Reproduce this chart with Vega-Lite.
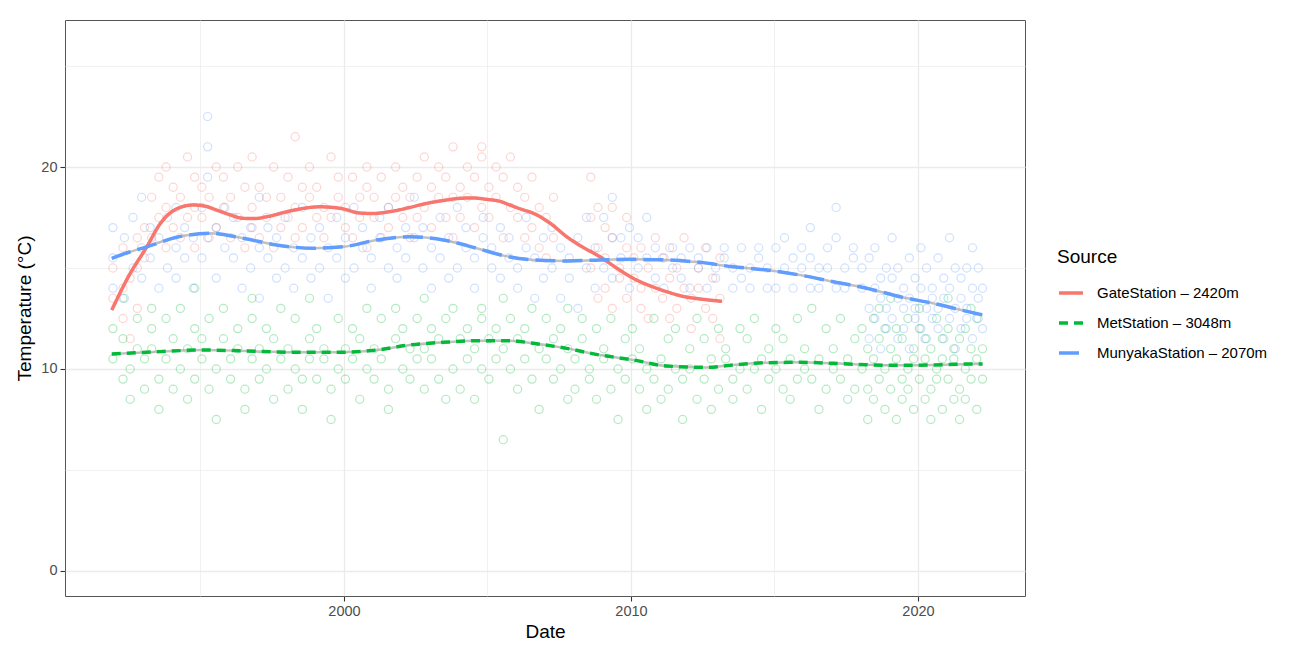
{
"$schema":"https://vega.github.io/schema/vega-lite/v6.json",
"width":960,"height":576,
"autosize":{"type":"none"},
"padding":{"left":65,"top":20,"right":268,"bottom":52},
"background":"white",
"config":{"font":"Liberation Sans","view":{"stroke":"#555555","strokeWidth":1},
"axis":{"domain":false,"labelFontSize":14.5,"labelColor":"#4D4D4D","titleFontSize":19,"titleFontWeight":"normal","titleColor":"#000000","tickSize":5,"tickWidth":1.1,"labelPadding":3},
"legend":{"symbolType":"stroke","symbolStrokeWidth":3.5,"symbolSize":576,"rowPadding":8,"labelFontSize":15,"labelColor":"#000000","labelLimit":300,"titleFontSize":19,"titleFontWeight":"normal","titleColor":"#000000","labelOffset":12,"titlePadding":12}},
"datasets":{
"pts":[
{"d":1991.95,"t":13.5,"s":"G"},{"d":1991.95,"t":15.0,"s":"G"},{"d":1992.3,"t":12.5,"s":"G"},{"d":1992.3,"t":16.0,"s":"G"},{"d":1992.3,"t":14.0,"s":"G"},{"d":1992.55,"t":14.5,"s":"G"},{"d":1992.55,"t":11.5,"s":"G"},{"d":1992.8,"t":13.0,"s":"G"},{"d":1992.8,"t":16.5,"s":"G"},{"d":1992.8,"t":15.0,"s":"G"},
{"d":1993.05,"t":17.0,"s":"G"},{"d":1993.05,"t":15.5,"s":"G"},{"d":1993.3,"t":18.5,"s":"G"},{"d":1993.3,"t":16.5,"s":"G"},{"d":1993.55,"t":17.5,"s":"G"},{"d":1993.55,"t":19.5,"s":"G"},{"d":1993.8,"t":18.0,"s":"G"},{"d":1993.8,"t":16.0,"s":"G"},{"d":1993.8,"t":20.0,"s":"G"},
{"d":1994.05,"t":17.0,"s":"G"},{"d":1994.05,"t":19.0,"s":"G"},{"d":1994.3,"t":18.5,"s":"G"},{"d":1994.3,"t":16.5,"s":"G"},{"d":1994.55,"t":20.5,"s":"G"},{"d":1994.55,"t":17.5,"s":"G"},{"d":1994.8,"t":18.0,"s":"G"},{"d":1994.8,"t":19.5,"s":"G"},{"d":1994.8,"t":16.0,"s":"G"},
{"d":1995.05,"t":17.5,"s":"G"},{"d":1995.05,"t":19.0,"s":"G"},{"d":1995.3,"t":18.5,"s":"G"},{"d":1995.3,"t":16.5,"s":"G"},{"d":1995.55,"t":20.0,"s":"G"},{"d":1995.55,"t":17.0,"s":"G"},{"d":1995.8,"t":18.0,"s":"G"},{"d":1995.8,"t":19.5,"s":"G"},
{"d":1996.05,"t":16.5,"s":"G"},{"d":1996.05,"t":18.5,"s":"G"},{"d":1996.3,"t":17.5,"s":"G"},{"d":1996.3,"t":20.0,"s":"G"},{"d":1996.55,"t":19.0,"s":"G"},{"d":1996.55,"t":16.0,"s":"G"},{"d":1996.8,"t":18.0,"s":"G"},{"d":1996.8,"t":17.0,"s":"G"},{"d":1996.8,"t":20.5,"s":"G"},
{"d":1997.05,"t":19.0,"s":"G"},{"d":1997.05,"t":16.5,"s":"G"},{"d":1997.3,"t":17.5,"s":"G"},{"d":1997.3,"t":18.5,"s":"G"},{"d":1997.55,"t":20.0,"s":"G"},{"d":1997.55,"t":16.0,"s":"G"},{"d":1997.8,"t":18.5,"s":"G"},{"d":1997.8,"t":17.0,"s":"G"},
{"d":1998.05,"t":19.5,"s":"G"},{"d":1998.05,"t":17.5,"s":"G"},{"d":1998.3,"t":18.0,"s":"G"},{"d":1998.3,"t":16.5,"s":"G"},{"d":1998.3,"t":21.5,"s":"G"},{"d":1998.55,"t":19.0,"s":"G"},{"d":1998.55,"t":17.0,"s":"G"},{"d":1998.8,"t":18.5,"s":"G"},{"d":1998.8,"t":20.0,"s":"G"},
{"d":1999.05,"t":17.5,"s":"G"},{"d":1999.05,"t":19.0,"s":"G"},{"d":1999.3,"t":18.0,"s":"G"},{"d":1999.3,"t":16.5,"s":"G"},{"d":1999.55,"t":20.5,"s":"G"},{"d":1999.55,"t":17.5,"s":"G"},{"d":1999.8,"t":18.5,"s":"G"},{"d":1999.8,"t":19.5,"s":"G"},
{"d":2000.05,"t":17.0,"s":"G"},{"d":2000.05,"t":18.0,"s":"G"},{"d":2000.3,"t":19.5,"s":"G"},{"d":2000.3,"t":16.5,"s":"G"},{"d":2000.55,"t":18.5,"s":"G"},{"d":2000.55,"t":17.5,"s":"G"},{"d":2000.8,"t":19.0,"s":"G"},{"d":2000.8,"t":16.0,"s":"G"},{"d":2000.8,"t":20.0,"s":"G"},
{"d":2001.05,"t":17.5,"s":"G"},{"d":2001.05,"t":18.5,"s":"G"},{"d":2001.3,"t":19.5,"s":"G"},{"d":2001.3,"t":16.5,"s":"G"},{"d":2001.55,"t":18.0,"s":"G"},{"d":2001.55,"t":17.0,"s":"G"},{"d":2001.8,"t":20.0,"s":"G"},{"d":2001.8,"t":18.5,"s":"G"},
{"d":2002.05,"t":17.5,"s":"G"},{"d":2002.05,"t":19.0,"s":"G"},{"d":2002.3,"t":18.5,"s":"G"},{"d":2002.3,"t":16.5,"s":"G"},{"d":2002.55,"t":19.5,"s":"G"},{"d":2002.55,"t":17.5,"s":"G"},{"d":2002.8,"t":18.0,"s":"G"},{"d":2002.8,"t":20.5,"s":"G"},
{"d":2003.05,"t":19.0,"s":"G"},{"d":2003.05,"t":17.0,"s":"G"},{"d":2003.3,"t":18.5,"s":"G"},{"d":2003.3,"t":20.0,"s":"G"},{"d":2003.55,"t":17.5,"s":"G"},{"d":2003.55,"t":19.5,"s":"G"},{"d":2003.8,"t":18.5,"s":"G"},{"d":2003.8,"t":16.5,"s":"G"},{"d":2003.8,"t":21.0,"s":"G"},
{"d":2004.05,"t":19.0,"s":"G"},{"d":2004.05,"t":17.5,"s":"G"},{"d":2004.3,"t":20.0,"s":"G"},{"d":2004.3,"t":18.5,"s":"G"},{"d":2004.55,"t":19.5,"s":"G"},{"d":2004.55,"t":17.0,"s":"G"},{"d":2004.8,"t":18.0,"s":"G"},{"d":2004.8,"t":20.5,"s":"G"},{"d":2004.8,"t":21.0,"s":"G"},
{"d":2005.05,"t":19.0,"s":"G"},{"d":2005.05,"t":17.5,"s":"G"},{"d":2005.3,"t":20.0,"s":"G"},{"d":2005.3,"t":18.5,"s":"G"},{"d":2005.55,"t":19.5,"s":"G"},{"d":2005.55,"t":16.5,"s":"G"},{"d":2005.8,"t":18.0,"s":"G"},{"d":2005.8,"t":20.5,"s":"G"},
{"d":2006.05,"t":17.5,"s":"G"},{"d":2006.05,"t":19.0,"s":"G"},{"d":2006.3,"t":18.5,"s":"G"},{"d":2006.3,"t":16.5,"s":"G"},{"d":2006.55,"t":19.5,"s":"G"},{"d":2006.55,"t":17.0,"s":"G"},{"d":2006.8,"t":18.0,"s":"G"},{"d":2006.8,"t":16.0,"s":"G"},
{"d":2007.05,"t":17.5,"s":"G"},{"d":2007.05,"t":15.5,"s":"G"},{"d":2007.3,"t":18.5,"s":"G"},{"d":2007.3,"t":16.5,"s":"G"},
{"d":2008.6,"t":17.5,"s":"G"},{"d":2008.6,"t":19.5,"s":"G"},{"d":2008.6,"t":15.0,"s":"G"},{"d":2008.85,"t":16.0,"s":"G"},{"d":2008.85,"t":18.0,"s":"G"},{"d":2008.85,"t":13.5,"s":"G"},
{"d":2009.1,"t":15.5,"s":"G"},{"d":2009.1,"t":17.0,"s":"G"},{"d":2009.1,"t":14.0,"s":"G"},{"d":2009.35,"t":16.5,"s":"G"},{"d":2009.35,"t":13.0,"s":"G"},{"d":2009.35,"t":18.0,"s":"G"},{"d":2009.6,"t":15.0,"s":"G"},{"d":2009.6,"t":14.5,"s":"G"},{"d":2009.85,"t":16.0,"s":"G"},{"d":2009.85,"t":13.5,"s":"G"},{"d":2009.85,"t":17.5,"s":"G"},
{"d":2010.1,"t":14.5,"s":"G"},{"d":2010.1,"t":15.5,"s":"G"},{"d":2010.35,"t":13.0,"s":"G"},{"d":2010.35,"t":16.0,"s":"G"},{"d":2010.35,"t":14.0,"s":"G"},{"d":2010.6,"t":15.0,"s":"G"},{"d":2010.6,"t":12.5,"s":"G"},{"d":2010.85,"t":14.0,"s":"G"},{"d":2010.85,"t":16.5,"s":"G"},
{"d":2011.1,"t":13.5,"s":"G"},{"d":2011.1,"t":15.5,"s":"G"},{"d":2011.35,"t":14.5,"s":"G"},{"d":2011.35,"t":12.5,"s":"G"},{"d":2011.35,"t":16.0,"s":"G"},{"d":2011.6,"t":13.0,"s":"G"},{"d":2011.6,"t":15.0,"s":"G"},{"d":2011.85,"t":14.0,"s":"G"},{"d":2011.85,"t":16.5,"s":"G"},
{"d":2012.1,"t":13.5,"s":"G"},{"d":2012.1,"t":12.0,"s":"G"},{"d":2012.35,"t":15.0,"s":"G"},{"d":2012.35,"t":14.0,"s":"G"},{"d":2012.6,"t":13.0,"s":"G"},{"d":2012.6,"t":16.0,"s":"G"},{"d":2012.85,"t":14.5,"s":"G"},{"d":2012.85,"t":12.5,"s":"G"},
{"d":2013.1,"t":13.5,"s":"G"},{"d":2013.1,"t":15.5,"s":"G"},{"d":2013.1,"t":11.5,"s":"G"},

{"d":1991.95,"t":10.5,"s":"M"},{"d":1991.95,"t":12.0,"s":"M"},{"d":1992.3,"t":9.5,"s":"M"},{"d":1992.3,"t":11.5,"s":"M"},{"d":1992.3,"t":13.5,"s":"M"},{"d":1992.55,"t":10.0,"s":"M"},{"d":1992.55,"t":8.5,"s":"M"},{"d":1992.8,"t":11.0,"s":"M"},{"d":1992.8,"t":12.5,"s":"M"},
{"d":1993.05,"t":9.0,"s":"M"},{"d":1993.05,"t":10.5,"s":"M"},{"d":1993.3,"t":12.0,"s":"M"},{"d":1993.3,"t":11.0,"s":"M"},{"d":1993.3,"t":13.0,"s":"M"},{"d":1993.55,"t":9.5,"s":"M"},{"d":1993.55,"t":8.0,"s":"M"},{"d":1993.8,"t":10.5,"s":"M"},{"d":1993.8,"t":12.5,"s":"M"},
{"d":1994.05,"t":11.5,"s":"M"},{"d":1994.05,"t":9.0,"s":"M"},{"d":1994.3,"t":10.0,"s":"M"},{"d":1994.3,"t":13.0,"s":"M"},{"d":1994.55,"t":11.0,"s":"M"},{"d":1994.55,"t":8.5,"s":"M"},{"d":1994.8,"t":12.0,"s":"M"},{"d":1994.8,"t":9.5,"s":"M"},{"d":1994.8,"t":14.0,"s":"M"},
{"d":1995.05,"t":10.5,"s":"M"},{"d":1995.05,"t":11.5,"s":"M"},{"d":1995.3,"t":9.0,"s":"M"},{"d":1995.3,"t":12.5,"s":"M"},{"d":1995.55,"t":10.0,"s":"M"},{"d":1995.55,"t":7.5,"s":"M"},{"d":1995.8,"t":11.5,"s":"M"},{"d":1995.8,"t":13.0,"s":"M"},
{"d":1996.05,"t":10.5,"s":"M"},{"d":1996.05,"t":9.5,"s":"M"},{"d":1996.3,"t":12.0,"s":"M"},{"d":1996.3,"t":11.0,"s":"M"},{"d":1996.55,"t":9.0,"s":"M"},{"d":1996.55,"t":8.0,"s":"M"},{"d":1996.8,"t":10.5,"s":"M"},{"d":1996.8,"t":12.5,"s":"M"},{"d":1996.8,"t":13.5,"s":"M"},
{"d":1997.05,"t":11.0,"s":"M"},{"d":1997.05,"t":9.5,"s":"M"},{"d":1997.3,"t":10.0,"s":"M"},{"d":1997.3,"t":12.0,"s":"M"},{"d":1997.55,"t":8.5,"s":"M"},{"d":1997.55,"t":11.5,"s":"M"},{"d":1997.8,"t":10.5,"s":"M"},{"d":1997.8,"t":13.0,"s":"M"},
{"d":1998.05,"t":9.0,"s":"M"},{"d":1998.05,"t":11.0,"s":"M"},{"d":1998.3,"t":12.5,"s":"M"},{"d":1998.3,"t":10.0,"s":"M"},{"d":1998.55,"t":8.0,"s":"M"},{"d":1998.55,"t":9.5,"s":"M"},{"d":1998.8,"t":11.5,"s":"M"},{"d":1998.8,"t":10.5,"s":"M"},{"d":1998.8,"t":13.5,"s":"M"},
{"d":1999.05,"t":9.5,"s":"M"},{"d":1999.05,"t":12.0,"s":"M"},{"d":1999.3,"t":10.5,"s":"M"},{"d":1999.3,"t":11.0,"s":"M"},{"d":1999.55,"t":7.5,"s":"M"},{"d":1999.55,"t":9.0,"s":"M"},{"d":1999.8,"t":12.5,"s":"M"},{"d":1999.8,"t":10.0,"s":"M"},
{"d":2000.05,"t":11.0,"s":"M"},{"d":2000.05,"t":9.5,"s":"M"},{"d":2000.3,"t":10.5,"s":"M"},{"d":2000.3,"t":12.0,"s":"M"},{"d":2000.55,"t":8.5,"s":"M"},{"d":2000.55,"t":11.5,"s":"M"},{"d":2000.8,"t":10.0,"s":"M"},{"d":2000.8,"t":13.0,"s":"M"},
{"d":2001.05,"t":9.5,"s":"M"},{"d":2001.05,"t":11.0,"s":"M"},{"d":2001.3,"t":12.5,"s":"M"},{"d":2001.3,"t":10.5,"s":"M"},{"d":2001.55,"t":9.0,"s":"M"},{"d":2001.55,"t":8.0,"s":"M"},{"d":2001.8,"t":11.5,"s":"M"},{"d":2001.8,"t":13.0,"s":"M"},
{"d":2002.05,"t":10.0,"s":"M"},{"d":2002.05,"t":12.0,"s":"M"},{"d":2002.3,"t":11.0,"s":"M"},{"d":2002.3,"t":9.5,"s":"M"},{"d":2002.55,"t":12.5,"s":"M"},{"d":2002.55,"t":10.5,"s":"M"},{"d":2002.8,"t":13.5,"s":"M"},{"d":2002.8,"t":11.0,"s":"M"},{"d":2002.8,"t":9.0,"s":"M"},
{"d":2003.05,"t":10.5,"s":"M"},{"d":2003.05,"t":12.0,"s":"M"},{"d":2003.3,"t":11.5,"s":"M"},{"d":2003.3,"t":9.5,"s":"M"},{"d":2003.55,"t":12.5,"s":"M"},{"d":2003.55,"t":8.5,"s":"M"},{"d":2003.8,"t":10.0,"s":"M"},{"d":2003.8,"t":13.0,"s":"M"},
{"d":2004.05,"t":11.5,"s":"M"},{"d":2004.05,"t":9.0,"s":"M"},{"d":2004.3,"t":12.0,"s":"M"},{"d":2004.3,"t":10.5,"s":"M"},{"d":2004.55,"t":11.0,"s":"M"},{"d":2004.55,"t":8.5,"s":"M"},{"d":2004.8,"t":13.0,"s":"M"},{"d":2004.8,"t":10.0,"s":"M"},{"d":2004.8,"t":12.5,"s":"M"},
{"d":2005.05,"t":11.5,"s":"M"},{"d":2005.05,"t":9.5,"s":"M"},{"d":2005.3,"t":12.0,"s":"M"},{"d":2005.3,"t":10.5,"s":"M"},{"d":2005.55,"t":11.0,"s":"M"},{"d":2005.55,"t":13.5,"s":"M"},{"d":2005.55,"t":6.5,"s":"M"},{"d":2005.8,"t":10.0,"s":"M"},{"d":2005.8,"t":12.5,"s":"M"},
{"d":2006.05,"t":11.5,"s":"M"},{"d":2006.05,"t":9.0,"s":"M"},{"d":2006.3,"t":10.5,"s":"M"},{"d":2006.3,"t":12.0,"s":"M"},{"d":2006.55,"t":13.0,"s":"M"},{"d":2006.55,"t":9.5,"s":"M"},{"d":2006.8,"t":11.0,"s":"M"},{"d":2006.8,"t":8.0,"s":"M"},
{"d":2007.05,"t":10.5,"s":"M"},{"d":2007.05,"t":12.5,"s":"M"},{"d":2007.3,"t":9.5,"s":"M"},{"d":2007.3,"t":11.5,"s":"M"},{"d":2007.55,"t":12.0,"s":"M"},{"d":2007.55,"t":10.0,"s":"M"},{"d":2007.8,"t":8.5,"s":"M"},{"d":2007.8,"t":11.0,"s":"M"},{"d":2007.8,"t":13.0,"s":"M"},
{"d":2008.05,"t":10.5,"s":"M"},{"d":2008.05,"t":9.0,"s":"M"},{"d":2008.3,"t":11.5,"s":"M"},{"d":2008.3,"t":12.5,"s":"M"},{"d":2008.55,"t":9.5,"s":"M"},{"d":2008.55,"t":10.0,"s":"M"},{"d":2008.8,"t":12.0,"s":"M"},{"d":2008.8,"t":8.5,"s":"M"},
{"d":2009.05,"t":10.5,"s":"M"},{"d":2009.05,"t":11.0,"s":"M"},{"d":2009.3,"t":9.0,"s":"M"},{"d":2009.3,"t":12.5,"s":"M"},{"d":2009.55,"t":10.0,"s":"M"},{"d":2009.55,"t":7.5,"s":"M"},{"d":2009.8,"t":11.5,"s":"M"},{"d":2009.8,"t":9.5,"s":"M"},
{"d":2010.05,"t":10.5,"s":"M"},{"d":2010.05,"t":12.0,"s":"M"},{"d":2010.3,"t":9.0,"s":"M"},{"d":2010.3,"t":11.0,"s":"M"},{"d":2010.55,"t":8.0,"s":"M"},{"d":2010.55,"t":10.0,"s":"M"},{"d":2010.8,"t":12.5,"s":"M"},{"d":2010.8,"t":9.5,"s":"M"},
{"d":2011.05,"t":10.5,"s":"M"},{"d":2011.05,"t":8.5,"s":"M"},{"d":2011.3,"t":11.5,"s":"M"},{"d":2011.3,"t":9.0,"s":"M"},{"d":2011.55,"t":10.0,"s":"M"},{"d":2011.55,"t":12.0,"s":"M"},{"d":2011.8,"t":7.5,"s":"M"},{"d":2011.8,"t":9.5,"s":"M"},
{"d":2012.05,"t":11.0,"s":"M"},{"d":2012.05,"t":10.0,"s":"M"},{"d":2012.3,"t":8.5,"s":"M"},{"d":2012.3,"t":12.5,"s":"M"},{"d":2012.55,"t":9.5,"s":"M"},{"d":2012.55,"t":11.5,"s":"M"},{"d":2012.8,"t":10.5,"s":"M"},{"d":2012.8,"t":8.0,"s":"M"},
{"d":2013.05,"t":12.0,"s":"M"},{"d":2013.05,"t":9.0,"s":"M"},{"d":2013.3,"t":10.5,"s":"M"},{"d":2013.3,"t":11.0,"s":"M"},{"d":2013.55,"t":8.5,"s":"M"},{"d":2013.55,"t":9.5,"s":"M"},{"d":2013.8,"t":12.0,"s":"M"},{"d":2013.8,"t":10.0,"s":"M"},
{"d":2014.05,"t":11.5,"s":"M"},{"d":2014.05,"t":9.0,"s":"M"},{"d":2014.3,"t":10.0,"s":"M"},{"d":2014.3,"t":12.5,"s":"M"},{"d":2014.55,"t":8.0,"s":"M"},{"d":2014.55,"t":10.5,"s":"M"},{"d":2014.8,"t":11.0,"s":"M"},{"d":2014.8,"t":9.5,"s":"M"},
{"d":2015.05,"t":12.0,"s":"M"},{"d":2015.05,"t":10.0,"s":"M"},{"d":2015.3,"t":9.0,"s":"M"},{"d":2015.3,"t":11.5,"s":"M"},{"d":2015.55,"t":10.5,"s":"M"},{"d":2015.55,"t":8.5,"s":"M"},{"d":2015.8,"t":12.5,"s":"M"},{"d":2015.8,"t":9.5,"s":"M"},
{"d":2016.05,"t":10.0,"s":"M"},{"d":2016.05,"t":11.0,"s":"M"},{"d":2016.3,"t":9.5,"s":"M"},{"d":2016.3,"t":13.0,"s":"M"},{"d":2016.55,"t":10.5,"s":"M"},{"d":2016.55,"t":8.0,"s":"M"},{"d":2016.8,"t":12.0,"s":"M"},{"d":2016.8,"t":9.0,"s":"M"},
{"d":2017.05,"t":11.0,"s":"M"},{"d":2017.05,"t":10.0,"s":"M"},{"d":2017.3,"t":9.5,"s":"M"},{"d":2017.3,"t":12.5,"s":"M"},{"d":2017.55,"t":10.5,"s":"M"},{"d":2017.55,"t":8.5,"s":"M"},{"d":2017.8,"t":11.5,"s":"M"},{"d":2017.8,"t":9.0,"s":"M"},
{"d":2018.05,"t":10.0,"s":"M"},{"d":2018.05,"t":12.0,"s":"M"},{"d":2018.25,"t":9.0,"s":"M"},{"d":2018.25,"t":11.0,"s":"M"},{"d":2018.25,"t":7.5,"s":"M"},{"d":2018.45,"t":10.5,"s":"M"},{"d":2018.45,"t":12.5,"s":"M"},{"d":2018.45,"t":8.5,"s":"M"},{"d":2018.65,"t":9.5,"s":"M"},{"d":2018.65,"t":11.5,"s":"M"},{"d":2018.65,"t":13.0,"s":"M"},{"d":2018.85,"t":10.0,"s":"M"},{"d":2018.85,"t":8.0,"s":"M"},{"d":2018.85,"t":12.0,"s":"M"},
{"d":2019.05,"t":11.0,"s":"M"},{"d":2019.05,"t":9.0,"s":"M"},{"d":2019.05,"t":13.5,"s":"M"},{"d":2019.25,"t":10.5,"s":"M"},{"d":2019.25,"t":7.5,"s":"M"},{"d":2019.25,"t":12.0,"s":"M"},{"d":2019.45,"t":9.5,"s":"M"},{"d":2019.45,"t":11.5,"s":"M"},{"d":2019.45,"t":8.5,"s":"M"},{"d":2019.65,"t":10.0,"s":"M"},{"d":2019.65,"t":12.5,"s":"M"},{"d":2019.65,"t":9.0,"s":"M"},{"d":2019.85,"t":11.0,"s":"M"},{"d":2019.85,"t":8.0,"s":"M"},{"d":2019.85,"t":10.5,"s":"M"},
{"d":2020.05,"t":9.5,"s":"M"},{"d":2020.05,"t":12.0,"s":"M"},{"d":2020.05,"t":13.0,"s":"M"},{"d":2020.25,"t":10.5,"s":"M"},{"d":2020.25,"t":8.5,"s":"M"},{"d":2020.25,"t":11.5,"s":"M"},{"d":2020.45,"t":9.0,"s":"M"},{"d":2020.45,"t":11.0,"s":"M"},{"d":2020.45,"t":7.5,"s":"M"},{"d":2020.65,"t":10.0,"s":"M"},{"d":2020.65,"t":12.5,"s":"M"},{"d":2020.65,"t":9.5,"s":"M"},{"d":2020.85,"t":11.5,"s":"M"},{"d":2020.85,"t":8.0,"s":"M"},{"d":2020.85,"t":10.5,"s":"M"},
{"d":2021.05,"t":9.5,"s":"M"},{"d":2021.05,"t":12.0,"s":"M"},{"d":2021.05,"t":13.5,"s":"M"},{"d":2021.25,"t":10.5,"s":"M"},{"d":2021.25,"t":8.5,"s":"M"},{"d":2021.25,"t":11.0,"s":"M"},{"d":2021.45,"t":9.0,"s":"M"},{"d":2021.45,"t":11.5,"s":"M"},{"d":2021.45,"t":7.5,"s":"M"},{"d":2021.65,"t":10.0,"s":"M"},{"d":2021.65,"t":12.0,"s":"M"},{"d":2021.65,"t":8.5,"s":"M"},{"d":2021.85,"t":11.0,"s":"M"},{"d":2021.85,"t":9.5,"s":"M"},{"d":2021.85,"t":13.0,"s":"M"},
{"d":2022.05,"t":10.5,"s":"M"},{"d":2022.05,"t":8.0,"s":"M"},{"d":2022.05,"t":12.5,"s":"M"},{"d":2022.25,"t":9.5,"s":"M"},{"d":2022.25,"t":11.0,"s":"M"},

{"d":1991.95,"t":15.5,"s":"K"},{"d":1991.95,"t":17.0,"s":"K"},{"d":1991.95,"t":14.0,"s":"K"},{"d":1992.35,"t":16.5,"s":"K"},{"d":1992.35,"t":13.5,"s":"K"},{"d":1992.65,"t":15.0,"s":"K"},{"d":1992.65,"t":17.5,"s":"K"},{"d":1992.95,"t":16.0,"s":"K"},{"d":1992.95,"t":14.5,"s":"K"},{"d":1992.95,"t":18.5,"s":"K"},
{"d":1993.25,"t":15.5,"s":"K"},{"d":1993.25,"t":17.0,"s":"K"},{"d":1993.55,"t":16.5,"s":"K"},{"d":1993.55,"t":14.0,"s":"K"},{"d":1993.85,"t":17.5,"s":"K"},{"d":1993.85,"t":15.0,"s":"K"},
{"d":1994.15,"t":16.0,"s":"K"},{"d":1994.15,"t":18.0,"s":"K"},{"d":1994.15,"t":14.5,"s":"K"},{"d":1994.45,"t":17.0,"s":"K"},{"d":1994.45,"t":15.5,"s":"K"},{"d":1994.75,"t":16.5,"s":"K"},{"d":1994.75,"t":14.0,"s":"K"},
{"d":1995.05,"t":18.0,"s":"K"},{"d":1995.05,"t":15.5,"s":"K"},{"d":1995.25,"t":19.5,"s":"K"},{"d":1995.25,"t":21.0,"s":"K"},{"d":1995.25,"t":22.5,"s":"K"},{"d":1995.25,"t":16.5,"s":"K"},{"d":1995.55,"t":17.0,"s":"K"},{"d":1995.55,"t":14.5,"s":"K"},{"d":1995.85,"t":16.0,"s":"K"},{"d":1995.85,"t":18.0,"s":"K"},
{"d":1996.15,"t":15.5,"s":"K"},{"d":1996.15,"t":17.5,"s":"K"},{"d":1996.45,"t":16.5,"s":"K"},{"d":1996.45,"t":14.0,"s":"K"},{"d":1996.75,"t":15.0,"s":"K"},{"d":1996.75,"t":17.0,"s":"K"},
{"d":1997.05,"t":16.0,"s":"K"},{"d":1997.05,"t":13.5,"s":"K"},{"d":1997.05,"t":18.5,"s":"K"},{"d":1997.35,"t":15.5,"s":"K"},{"d":1997.35,"t":17.0,"s":"K"},{"d":1997.65,"t":16.5,"s":"K"},{"d":1997.65,"t":14.5,"s":"K"},{"d":1997.95,"t":15.0,"s":"K"},{"d":1997.95,"t":17.5,"s":"K"},
{"d":1998.25,"t":16.0,"s":"K"},{"d":1998.25,"t":14.0,"s":"K"},{"d":1998.55,"t":15.5,"s":"K"},{"d":1998.55,"t":18.0,"s":"K"},{"d":1998.85,"t":16.5,"s":"K"},{"d":1998.85,"t":14.5,"s":"K"},
{"d":1999.15,"t":15.0,"s":"K"},{"d":1999.15,"t":17.0,"s":"K"},{"d":1999.45,"t":16.0,"s":"K"},{"d":1999.45,"t":13.5,"s":"K"},{"d":1999.75,"t":15.5,"s":"K"},{"d":1999.75,"t":17.5,"s":"K"},
{"d":2000.05,"t":16.5,"s":"K"},{"d":2000.05,"t":14.5,"s":"K"},{"d":2000.35,"t":15.0,"s":"K"},{"d":2000.35,"t":18.0,"s":"K"},{"d":2000.65,"t":16.0,"s":"K"},{"d":2000.65,"t":17.0,"s":"K"},{"d":2000.95,"t":15.5,"s":"K"},{"d":2000.95,"t":14.0,"s":"K"},
{"d":2001.25,"t":16.5,"s":"K"},{"d":2001.25,"t":17.5,"s":"K"},{"d":2001.55,"t":15.0,"s":"K"},{"d":2001.55,"t":18.0,"s":"K"},{"d":2001.85,"t":16.0,"s":"K"},{"d":2001.85,"t":14.5,"s":"K"},
{"d":2002.15,"t":17.0,"s":"K"},{"d":2002.15,"t":15.5,"s":"K"},{"d":2002.45,"t":16.5,"s":"K"},{"d":2002.45,"t":18.5,"s":"K"},{"d":2002.75,"t":15.0,"s":"K"},{"d":2002.75,"t":17.0,"s":"K"},
{"d":2003.05,"t":16.0,"s":"K"},{"d":2003.05,"t":14.0,"s":"K"},{"d":2003.35,"t":17.5,"s":"K"},{"d":2003.35,"t":15.5,"s":"K"},{"d":2003.65,"t":16.5,"s":"K"},{"d":2003.65,"t":14.5,"s":"K"},{"d":2003.95,"t":15.0,"s":"K"},{"d":2003.95,"t":18.0,"s":"K"},
{"d":2004.25,"t":16.0,"s":"K"},{"d":2004.25,"t":17.0,"s":"K"},{"d":2004.55,"t":15.5,"s":"K"},{"d":2004.55,"t":14.0,"s":"K"},{"d":2004.85,"t":16.5,"s":"K"},{"d":2004.85,"t":17.5,"s":"K"},
{"d":2005.15,"t":15.0,"s":"K"},{"d":2005.15,"t":16.0,"s":"K"},{"d":2005.45,"t":14.5,"s":"K"},{"d":2005.45,"t":17.0,"s":"K"},{"d":2005.75,"t":15.5,"s":"K"},{"d":2005.75,"t":16.5,"s":"K"},
{"d":2006.05,"t":15.0,"s":"K"},{"d":2006.05,"t":14.0,"s":"K"},{"d":2006.35,"t":16.0,"s":"K"},{"d":2006.35,"t":17.5,"s":"K"},{"d":2006.65,"t":15.5,"s":"K"},{"d":2006.65,"t":13.5,"s":"K"},{"d":2006.95,"t":16.5,"s":"K"},{"d":2006.95,"t":14.5,"s":"K"},
{"d":2007.25,"t":15.0,"s":"K"},{"d":2007.25,"t":17.0,"s":"K"},{"d":2007.55,"t":16.0,"s":"K"},{"d":2007.55,"t":13.5,"s":"K"},{"d":2007.85,"t":15.5,"s":"K"},{"d":2007.85,"t":14.5,"s":"K"},
{"d":2008.15,"t":16.5,"s":"K"},{"d":2008.15,"t":13.0,"s":"K"},{"d":2008.45,"t":15.0,"s":"K"},{"d":2008.45,"t":17.5,"s":"K"},{"d":2008.75,"t":16.0,"s":"K"},{"d":2008.75,"t":14.0,"s":"K"},
{"d":2009.05,"t":17.5,"s":"K"},{"d":2009.05,"t":15.0,"s":"K"},{"d":2009.35,"t":16.5,"s":"K"},{"d":2009.35,"t":14.5,"s":"K"},{"d":2009.35,"t":18.5,"s":"K"},{"d":2009.65,"t":15.5,"s":"K"},{"d":2009.65,"t":16.5,"s":"K"},{"d":2009.95,"t":17.0,"s":"K"},{"d":2009.95,"t":14.0,"s":"K"},
{"d":2010.25,"t":15.0,"s":"K"},{"d":2010.25,"t":16.5,"s":"K"},{"d":2010.55,"t":15.5,"s":"K"},{"d":2010.55,"t":17.5,"s":"K"},{"d":2010.85,"t":16.0,"s":"K"},{"d":2010.85,"t":14.5,"s":"K"},
{"d":2011.15,"t":15.5,"s":"K"},{"d":2011.15,"t":14.0,"s":"K"},{"d":2011.45,"t":16.0,"s":"K"},{"d":2011.45,"t":15.0,"s":"K"},{"d":2011.75,"t":14.5,"s":"K"},{"d":2011.75,"t":15.5,"s":"K"},
{"d":2012.05,"t":16.0,"s":"K"},{"d":2012.05,"t":14.0,"s":"K"},{"d":2012.35,"t":15.0,"s":"K"},{"d":2012.35,"t":15.5,"s":"K"},{"d":2012.65,"t":14.0,"s":"K"},{"d":2012.65,"t":16.0,"s":"K"},{"d":2012.95,"t":15.0,"s":"K"},{"d":2012.95,"t":14.5,"s":"K"},
{"d":2013.25,"t":15.5,"s":"K"},{"d":2013.25,"t":16.0,"s":"K"},{"d":2013.55,"t":14.0,"s":"K"},{"d":2013.55,"t":15.0,"s":"K"},{"d":2013.85,"t":16.0,"s":"K"},{"d":2013.85,"t":14.5,"s":"K"},
{"d":2014.15,"t":15.0,"s":"K"},{"d":2014.15,"t":14.0,"s":"K"},{"d":2014.45,"t":15.5,"s":"K"},{"d":2014.45,"t":16.0,"s":"K"},{"d":2014.75,"t":14.0,"s":"K"},{"d":2014.75,"t":15.0,"s":"K"},
{"d":2015.05,"t":16.0,"s":"K"},{"d":2015.05,"t":14.0,"s":"K"},{"d":2015.35,"t":15.0,"s":"K"},{"d":2015.35,"t":16.5,"s":"K"},{"d":2015.65,"t":14.0,"s":"K"},{"d":2015.65,"t":15.5,"s":"K"},{"d":2015.95,"t":16.0,"s":"K"},{"d":2015.95,"t":15.0,"s":"K"},
{"d":2016.25,"t":14.0,"s":"K"},{"d":2016.25,"t":17.0,"s":"K"},{"d":2016.25,"t":15.5,"s":"K"},{"d":2016.55,"t":15.0,"s":"K"},{"d":2016.55,"t":14.0,"s":"K"},{"d":2016.85,"t":16.0,"s":"K"},{"d":2016.85,"t":15.0,"s":"K"},
{"d":2017.15,"t":14.0,"s":"K"},{"d":2017.15,"t":18.0,"s":"K"},{"d":2017.15,"t":16.5,"s":"K"},{"d":2017.45,"t":15.0,"s":"K"},{"d":2017.45,"t":14.0,"s":"K"},{"d":2017.75,"t":16.0,"s":"K"},{"d":2017.75,"t":15.5,"s":"K"},
{"d":2018.05,"t":14.0,"s":"K"},{"d":2018.05,"t":15.0,"s":"K"},{"d":2018.3,"t":13.0,"s":"K"},{"d":2018.3,"t":15.5,"s":"K"},{"d":2018.3,"t":11.5,"s":"K"},{"d":2018.5,"t":12.5,"s":"K"},{"d":2018.5,"t":14.0,"s":"K"},{"d":2018.5,"t":16.0,"s":"K"},{"d":2018.7,"t":13.5,"s":"K"},{"d":2018.7,"t":11.0,"s":"K"},{"d":2018.7,"t":14.5,"s":"K"},{"d":2018.9,"t":12.0,"s":"K"},{"d":2018.9,"t":15.0,"s":"K"},{"d":2018.9,"t":13.0,"s":"K"},
{"d":2019.1,"t":14.5,"s":"K"},{"d":2019.1,"t":12.5,"s":"K"},{"d":2019.1,"t":16.5,"s":"K"},{"d":2019.3,"t":13.5,"s":"K"},{"d":2019.3,"t":11.5,"s":"K"},{"d":2019.3,"t":15.0,"s":"K"},{"d":2019.5,"t":12.0,"s":"K"},{"d":2019.5,"t":14.0,"s":"K"},{"d":2019.5,"t":13.0,"s":"K"},{"d":2019.7,"t":15.5,"s":"K"},{"d":2019.7,"t":13.5,"s":"K"},{"d":2019.7,"t":11.0,"s":"K"},{"d":2019.9,"t":12.5,"s":"K"},{"d":2019.9,"t":14.5,"s":"K"},{"d":2019.9,"t":13.0,"s":"K"},
{"d":2020.1,"t":14.0,"s":"K"},{"d":2020.1,"t":12.0,"s":"K"},{"d":2020.1,"t":16.0,"s":"K"},{"d":2020.3,"t":13.0,"s":"K"},{"d":2020.3,"t":15.0,"s":"K"},{"d":2020.3,"t":11.5,"s":"K"},{"d":2020.5,"t":12.5,"s":"K"},{"d":2020.5,"t":14.0,"s":"K"},{"d":2020.5,"t":13.5,"s":"K"},{"d":2020.7,"t":15.5,"s":"K"},{"d":2020.7,"t":12.0,"s":"K"},{"d":2020.7,"t":13.0,"s":"K"},{"d":2020.9,"t":14.5,"s":"K"},{"d":2020.9,"t":11.5,"s":"K"},{"d":2020.9,"t":13.5,"s":"K"},
{"d":2021.1,"t":12.5,"s":"K"},{"d":2021.1,"t":14.0,"s":"K"},{"d":2021.1,"t":16.5,"s":"K"},{"d":2021.3,"t":13.0,"s":"K"},{"d":2021.3,"t":15.0,"s":"K"},{"d":2021.3,"t":11.0,"s":"K"},{"d":2021.5,"t":12.0,"s":"K"},{"d":2021.5,"t":14.5,"s":"K"},{"d":2021.5,"t":13.5,"s":"K"},{"d":2021.7,"t":15.0,"s":"K"},{"d":2021.7,"t":12.5,"s":"K"},{"d":2021.7,"t":13.0,"s":"K"},{"d":2021.9,"t":14.0,"s":"K"},{"d":2021.9,"t":11.5,"s":"K"},{"d":2021.9,"t":16.0,"s":"K"},
{"d":2022.1,"t":12.5,"s":"K"},{"d":2022.1,"t":13.5,"s":"K"},{"d":2022.1,"t":15.0,"s":"K"},{"d":2022.25,"t":14.0,"s":"K"},{"d":2022.25,"t":12.0,"s":"K"}
],
"sm":[
{"d":1991.91,"t":12.92,"s":"G"},{"d":1992.5,"t":14.6,"s":"G"},{"d":1993.13,"t":16.05,"s":"G"},{"d":1993.6,"t":17.2,"s":"G"},{"d":1993.94,"t":17.72,"s":"G"},{"d":1994.4,"t":18.05,"s":"G"},{"d":1994.75,"t":18.12,"s":"G"},{"d":1995.2,"t":18.05,"s":"G"},{"d":1995.56,"t":17.87,"s":"G"},{"d":1996.0,"t":17.65,"s":"G"},{"d":1996.49,"t":17.46,"s":"G"},{"d":1996.9,"t":17.45,"s":"G"},{"d":1997.31,"t":17.54,"s":"G"},{"d":1998.2,"t":17.85,"s":"G"},{"d":1999.16,"t":18.03,"s":"G"},{"d":1999.9,"t":17.95,"s":"G"},{"d":2000.56,"t":17.72,"s":"G"},{"d":2001.0,"t":17.7,"s":"G"},{"d":2001.6,"t":17.79,"s":"G"},{"d":2002.3,"t":18.0,"s":"G"},{"d":2002.88,"t":18.2,"s":"G"},{"d":2003.5,"t":18.35,"s":"G"},{"d":2004.04,"t":18.45,"s":"G"},{"d":2004.5,"t":18.47,"s":"G"},{"d":2004.97,"t":18.4,"s":"G"},{"d":2005.44,"t":18.3,"s":"G"},{"d":2005.78,"t":18.12,"s":"G"},{"d":2006.2,"t":17.9,"s":"G"},{"d":2006.6,"t":17.71,"s":"G"},{"d":2007.2,"t":17.2,"s":"G"},{"d":2007.76,"t":16.55,"s":"G"},{"d":2008.3,"t":16.05,"s":"G"},{"d":2008.92,"t":15.56,"s":"G"},{"d":2009.5,"t":15.0,"s":"G"},{"d":2010.08,"t":14.49,"s":"G"},{"d":2010.7,"t":14.1,"s":"G"},{"d":2011.24,"t":13.83,"s":"G"},{"d":2011.8,"t":13.6,"s":"G"},{"d":2012.4,"t":13.47,"s":"G"},{"d":2013.17,"t":13.35,"s":"G"},
{"d":1991.91,"t":10.74,"s":"M"},{"d":1993.59,"t":10.86,"s":"M"},{"d":1995.1,"t":10.94,"s":"M"},{"d":1996.61,"t":10.89,"s":"M"},{"d":1998.23,"t":10.83,"s":"M"},{"d":1999.98,"t":10.83,"s":"M"},{"d":2001.14,"t":10.94,"s":"M"},{"d":2002.3,"t":11.19,"s":"M"},{"d":2003.46,"t":11.32,"s":"M"},{"d":2004.62,"t":11.4,"s":"M"},{"d":2005.78,"t":11.4,"s":"M"},{"d":2006.6,"t":11.27,"s":"M"},{"d":2007.76,"t":11.02,"s":"M"},{"d":2008.92,"t":10.69,"s":"M"},{"d":2010.08,"t":10.45,"s":"M"},{"d":2011.24,"t":10.15,"s":"M"},{"d":2012.64,"t":10.08,"s":"M"},{"d":2013.56,"t":10.2,"s":"M"},{"d":2014.73,"t":10.31,"s":"M"},{"d":2015.89,"t":10.33,"s":"M"},{"d":2017.05,"t":10.28,"s":"M"},{"d":2018.21,"t":10.21,"s":"M"},{"d":2019.37,"t":10.18,"s":"M"},{"d":2020.53,"t":10.2,"s":"M"},{"d":2021.99,"t":10.25,"s":"M"},{"d":2022.25,"t":10.25,"s":"M"},
{"d":1991.91,"t":15.48,"s":"K"},{"d":1992.5,"t":15.78,"s":"K"},{"d":1993.13,"t":16.05,"s":"K"},{"d":1994.17,"t":16.52,"s":"K"},{"d":1995.33,"t":16.72,"s":"K"},{"d":1996.49,"t":16.47,"s":"K"},{"d":1997.65,"t":16.14,"s":"K"},{"d":1998.93,"t":15.98,"s":"K"},{"d":1999.98,"t":16.05,"s":"K"},{"d":2001.14,"t":16.39,"s":"K"},{"d":2002.3,"t":16.55,"s":"K"},{"d":2003.46,"t":16.39,"s":"K"},{"d":2004.62,"t":15.98,"s":"K"},{"d":2005.6,"t":15.6,"s":"K"},{"d":2006.6,"t":15.4,"s":"K"},{"d":2007.76,"t":15.35,"s":"K"},{"d":2008.92,"t":15.4,"s":"K"},{"d":2010.08,"t":15.43,"s":"K"},{"d":2011.24,"t":15.4,"s":"K"},{"d":2012.4,"t":15.28,"s":"K"},{"d":2013.56,"t":15.06,"s":"K"},{"d":2014.73,"t":14.9,"s":"K"},{"d":2015.89,"t":14.65,"s":"K"},{"d":2017.05,"t":14.32,"s":"K"},{"d":2018.21,"t":14.0,"s":"K"},{"d":2019.37,"t":13.58,"s":"K"},{"d":2020.53,"t":13.25,"s":"K"},{"d":2021.99,"t":12.76,"s":"K"},{"d":2022.25,"t":12.68,"s":"K"}
]},
"encoding":{
"x":{"field":"d","type":"quantitative","title":"Date","scale":{"domain":[1990.28,2023.73],"nice":false,"zero":false},
"axis":{"values":[1995,2000,2005,2010,2015,2020],"format":"d","labelExpr":"datum.value % 10 == 0 ? datum.label : ''","gridColor":"#EBEBEB","gridWidth":{"condition":{"test":"datum.value % 10 == 0","value":1.3},"value":0.7},"tickColor":{"condition":{"test":"datum.value % 10 == 0","value":"#333333"},"value":"transparent"},"titlePadding":5}},
"y":{"field":"t","type":"quantitative","title":"Temperature (°C)","scale":{"domain":[-1.24,27.28],"nice":false,"zero":false},
"axis":{"values":[0,5,10,15,20,25],"labelExpr":"datum.value % 10 == 0 ? datum.label : ''","gridColor":"#EBEBEB","gridWidth":{"condition":{"test":"datum.value % 10 == 0","value":1.3},"value":0.7},"tickColor":{"condition":{"test":"datum.value % 10 == 0","value":"#333333"},"value":"transparent"},"titlePadding":6}}
},
"layer":[
{"data":{"name":"pts"},"transform":[{"filter":"datum.s == 'G'"}],"mark":{"type":"point","filled":false,"size":66,"strokeWidth":1.2,"strokeOpacity":0.42,"color":"#F8766D"}},
{"data":{"name":"pts"},"transform":[{"filter":"datum.s == 'M'"}],"mark":{"type":"point","filled":false,"size":66,"strokeWidth":1.2,"strokeOpacity":0.42,"color":"#00BA38"}},
{"data":{"name":"pts"},"transform":[{"filter":"datum.s == 'K'"}],"mark":{"type":"point","filled":false,"size":66,"strokeWidth":1.2,"strokeOpacity":0.42,"color":"#619CFF"}},
{"data":{"name":"sm"},"mark":{"type":"line","color":"#A6A6A6","strokeWidth":2.5,"opacity":0.7,"interpolate":"monotone"},
"encoding":{"detail":{"field":"s","type":"nominal"}}},
{"data":{"name":"sm"},"mark":{"type":"line","strokeWidth":3.5,"interpolate":"monotone"},
"encoding":{
"color":{"field":"s","type":"nominal","title":"Source","scale":{"domain":["G","M","K"],"range":["#F8766D","#00BA38","#619CFF"]},"legend":{"orient":"none","legendX":992,"legendY":228,"labelExpr":"datum.label == 'G' ? 'GateStation – 2420m' : datum.label == 'M' ? 'MetStation – 3048m' : 'MunyakaStation – 2070m'"}},
"strokeDash":{"field":"s","type":"nominal","title":"Source","scale":{"domain":["G","M","K"],"range":[[1,0],[9,6],[20,7]]},"legend":{"orient":"none","legendX":992,"legendY":228,"labelExpr":"datum.label == 'G' ? 'GateStation – 2420m' : datum.label == 'M' ? 'MetStation – 3048m' : 'MunyakaStation – 2070m'"}}
}}
]
}
